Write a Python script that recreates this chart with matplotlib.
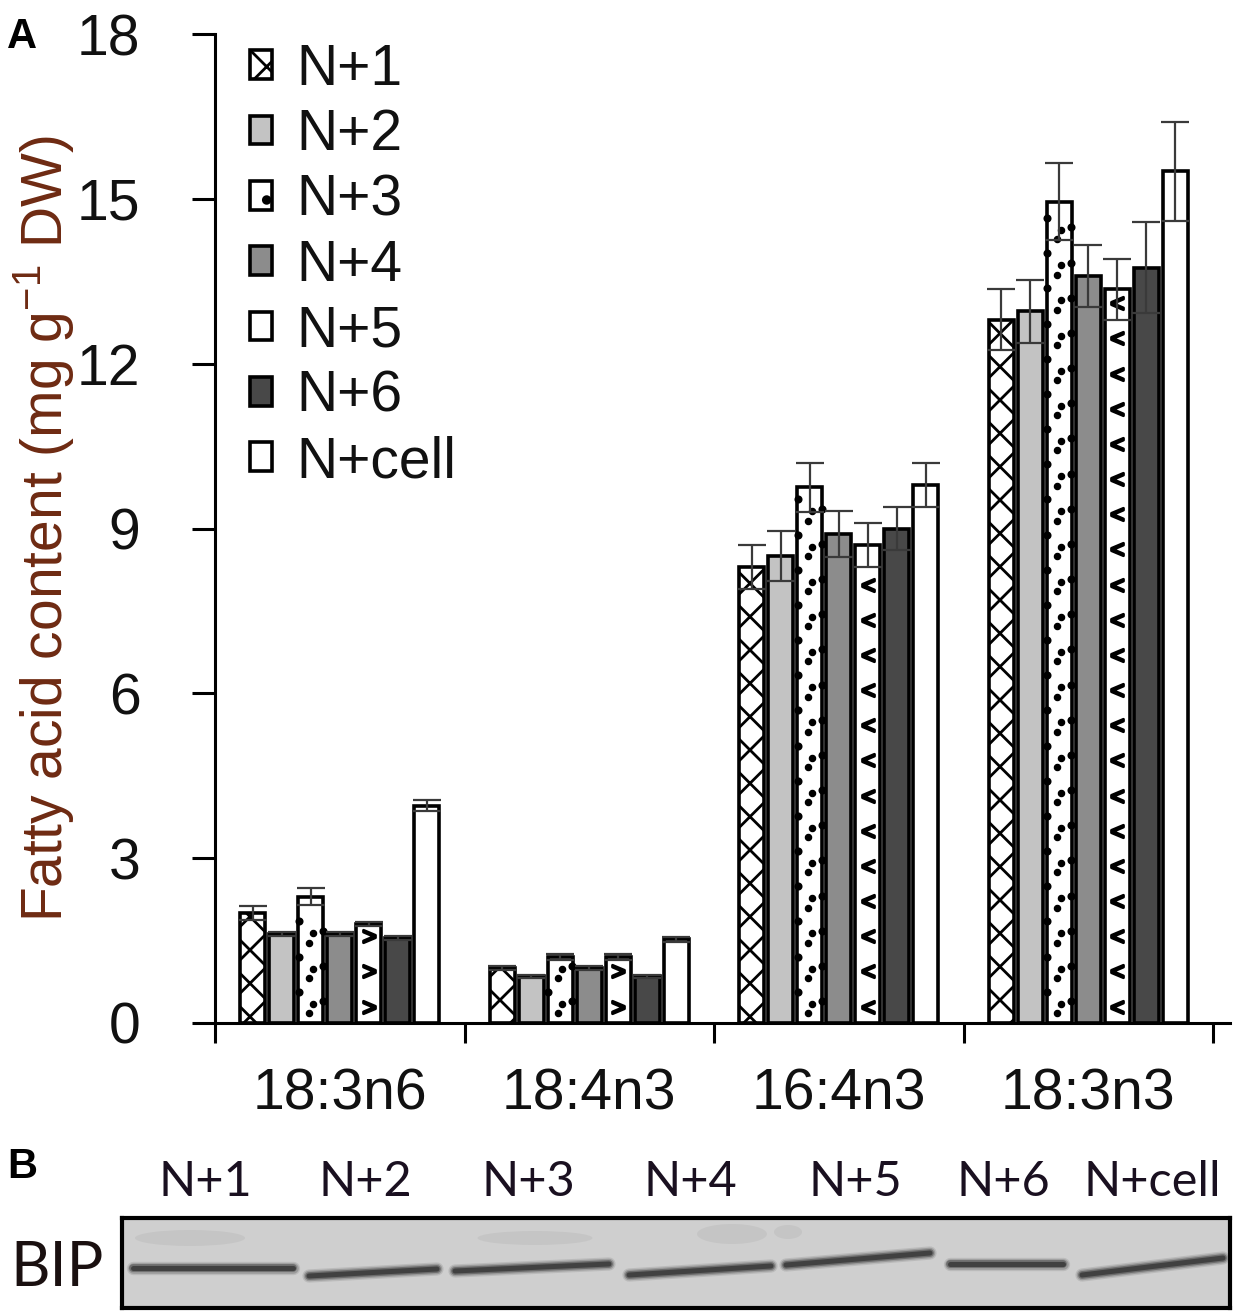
import matplotlib
matplotlib.use('Agg')
import matplotlib.pyplot as plt
from matplotlib.patches import Ellipse, Patch
import numpy as np

plt.rcParams['font.family'] = ['Liberation Sans', 'DejaVu Sans']
plt.rcParams['mathtext.fontset'] = 'custom'
plt.rcParams['mathtext.rm'] = 'Liberation Sans'
plt.rcParams['mathtext.it'] = 'Liberation Sans:italic'
plt.rcParams['hatch.linewidth'] = 1.0

# ---------------- data ----------------
categories = ['18:3n6', '18:4n3', '16:4n3', '18:3n3']
series = ['N+1', 'N+2', 'N+3', 'N+4', 'N+5', 'N+6', 'N+cell']

n1_mean = [2.00, 1.00, 8.30, 12.80]
n2_mean = [1.62, 0.85, 8.50, 12.95]
n3_mean = [2.30, 1.20, 9.75, 14.95]
n4_mean = [1.62, 1.00, 8.90, 13.60]
n5_mean = [1.80, 1.20, 8.70, 13.35]
n6_mean = [1.55, 0.85, 9.00, 13.75]
ncell_mean = [3.95, 1.52, 9.80, 15.50]

n1_err = [0.13, 0.04, 0.40, 0.55]
n2_err = [0.04, 0.03, 0.45, 0.58]
n3_err = [0.16, 0.05, 0.45, 0.70]
n4_err = [0.04, 0.03, 0.42, 0.56]
n5_err = [0.04, 0.06, 0.40, 0.55]
n6_err = [0.04, 0.03, 0.40, 0.82]
ncell_err = [0.10, 0.04, 0.40, 0.90]

yticks = [0, 3, 6, 9, 12, 15, 18]

# western blot lanes (panel B)
blot_lanes = ['N+1', 'N+2', 'N+3', 'N+4', 'N+5', 'N+6', 'N+cell']
blot_label_x = [205, 365, 528, 690, 855, 1003, 1152]
band_x0 = [11, 187, 333, 507, 664, 828, 960]
band_x1 = [171, 315, 487, 649, 808, 941, 1101]
band_y0 = [50, 58, 53, 57, 47, 46, 57]
band_y1 = [50, 51, 46, 48, 35, 46, 40]

means = [n1_mean, n2_mean, n3_mean, n4_mean, n5_mean, n6_mean, ncell_mean]
errs = [n1_err, n2_err, n3_err, n4_err, n5_err, n6_err, ncell_err]

facecolors = ['white', '#c3c3c3', 'white', '#8c8c8c', 'white', '#484848', 'white']
hatches = ['xx', None, None, None, None, None, None]
legend_hatches = ['xx', None, '.', None, None, None, None]
chevrons = ['>', '>', '<', '<']

W, H = 1240, 1314
fig = plt.figure(figsize=(6.2, 6.57), dpi=200)

ax = fig.add_axes([215 / W, 1 - 1023 / H, 1015 / W, (1023 - 34) / H])
xg = np.arange(len(categories))
pitch = 0.116
bw = 0.10
FS = 20.5
step = 0.64

for k, name in enumerate(series):
    xs = xg + (k - 3) * pitch
    ax.bar(xs, means[k], width=bw, color=facecolors[k], edgecolor='black',
           linewidth=1.3, hatch=hatches[k], zorder=2, label=name)
    ax.errorbar(xs, means[k], yerr=errs[k], fmt='none', ecolor='#3a3a3a',
                elinewidth=0.8, capsize=4.9, capthick=0.8, zorder=3)
    if name == 'N+5':
        for gi, (xv, hv) in enumerate(zip(xs, means[k])):
            ys = np.arange(0.3, hv - 0.15, step)
            ax.plot(np.full(len(ys), xv), ys, linestyle='none',
                    marker='$' + chevrons[gi] + '$', markersize=4.5,
                    color='black', zorder=2.5)
    if name == 'N+3':
        for xv, hv in zip(xs, means[k]):
            ya = np.arange(0.35, hv - 0.08, step)
            yb = ya - 0.17
            yl = ya + 0.22
            yr = ya + 0.05
            ax.plot(np.full(len(ya), xv + 0.008), ya, 'o', ms=1.7, color='black', zorder=2.5)
            ax.plot(np.full(len(yb), xv - 0.008), yb, 'o', ms=1.7, color='black', zorder=2.5)
            yl = yl[yl < hv - 0.08]
            ax.plot(np.full(len(yl), xv - bw / 2 + 0.002), yl, 'o', ms=1.9,
                    color='black', zorder=2.5)
            ax.plot(np.full(len(yr), xv + bw / 2 - 0.002), yr, 'o', ms=1.9,
                    color='black', zorder=2.5)

ax.set_xlim(-0.5, 3.568)
ax.set_ylim(0, 18)
ax.set_yticks(yticks)
ax.set_yticklabels([str(t) for t in yticks], fontsize=FS, color='#111111')
ax.set_xticks([-0.5, 0.5, 1.5, 2.5, 3.5])
ax.set_xticklabels([])
ax.set_xticks(xg, minor=True)
ax.set_xticklabels(categories, minor=True, fontsize=FS, color='#111111')
ax.tick_params(axis='x', which='major', direction='out', length=7.2, width=1.1)
ax.tick_params(axis='x', which='minor', length=0, pad=16)
ax.tick_params(axis='y', direction='out', length=8.3, width=1.1, pad=18.5)
for s in ['top', 'right']:
    ax.spines[s].set_visible(False)
for s in ['left', 'bottom']:
    ax.spines[s].set_linewidth(1.1)

ax.set_ylabel('Fatty acid content (mg g$^{-1}$ DW)', fontsize=FS, color='#6e2a12')
ax.yaxis.set_label_coords(-0.137, 0.5)

handles = [Patch(facecolor=facecolors[k], edgecolor='black', linewidth=1.3,
                 hatch=legend_hatches[k]) for k in range(len(series))]
leg = ax.legend(handles, series, loc='upper left', bbox_to_anchor=(0.034, 0.991),
                frameon=False, fontsize=FS, handlelength=0.4, handleheight=0.4,
                handletextpad=0.42, labelspacing=0.2, borderpad=0, borderaxespad=0)
for t in leg.get_texts():
    t.set_color('#111111')

fig.text(7 / W, 1 - 17 / H, 'A', fontsize=15, fontweight='bold', va='top', ha='left')
fig.text(7 / W, 1 - 1147 / H, 'B', fontsize=15, fontweight='bold', va='top', ha='left')

# ---------------- panel B: blot ----------------
for lab, xc in zip(blot_lanes, blot_label_x):
    fig.text(xc / W, 1 - 1182 / H, lab, fontsize=17.5, family=['Lato', 'DejaVu Sans'],
             ha='center', va='center', color='#1a1020')
fig.text(57 / W, 1 - 1268 / H, 'BIP', fontsize=22, family=['Lato', 'DejaVu Sans'],
         ha='center', va='center', color='#1a1010')

bx = fig.add_axes([122 / W, 1 - 1308 / H, 1108 / W, 90 / H])
bx.set_xlim(0, 1108)
bx.set_ylim(90, 0)
bx.set_facecolor('#cfcfcf')
bx.set_xticks([])
bx.set_yticks([])
for s in bx.spines.values():
    s.set_linewidth(1.5)
    s.set_color('black')

# faint smudges above some bands
for (cx, cy, ew, eh) in [(68, 20, 110, 16), (413, 20, 115, 14), (610, 16, 70, 20), (666, 14, 28, 14)]:
    bx.add_patch(Ellipse((cx, cy), ew, eh, color='#9a9a9a', alpha=0.18, lw=0))

for x0, x1, y0, y1 in zip(band_x0, band_x1, band_y0, band_y1):
    for lw, a in [(4.8, 0.12), (3.8, 0.22), (2.8, 0.4), (1.8, 0.65)]:
        bx.plot([x0, x1], [y0, y1], color='#2a2a2a', lw=lw, alpha=a,
                solid_capstyle='round')

fig.savefig('out.png', dpi=200)
